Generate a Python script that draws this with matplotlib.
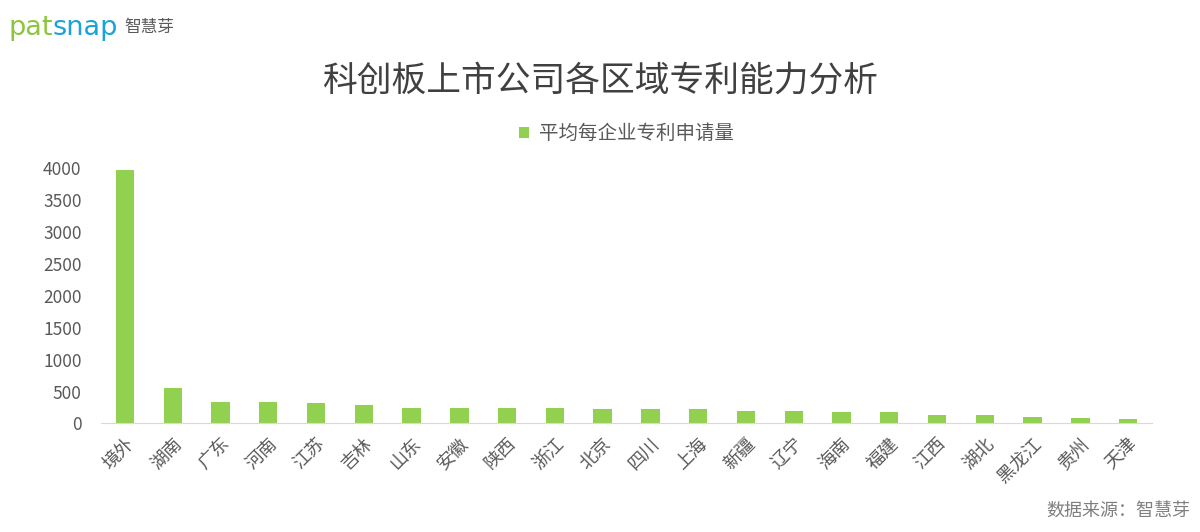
import matplotlib.pyplot as plt

plt.rcParams['font.family'] = ['Noto Sans CJK SC', 'DejaVu Sans']

regions = ["境外", "湖南", "广东", "河南", "江苏", "吉林", "山东", "安徽", "陕西", "浙江", "北京",
           "四川", "上海", "新疆", "辽宁", "海南", "福建", "江西", "湖北", "黑龙江", "贵州", "天津"]
patents = [3965, 548, 344, 329, 313, 286, 244, 243, 243, 242, 222,
           221, 220, 203, 202, 177, 176, 136, 135, 94, 78, 63]
series_name = "平均每企业专利申请量"
title = "科创板上市公司各区域专利能力分析"

fig = plt.figure(figsize=(12, 5.32), dpi=100)
ax = fig.add_axes([0.0842, 0.204, 0.8758, 0.480])

ax.bar(range(len(regions)), patents, width=0.385, color='#92D050', label=series_name)
ax.set_xlim(-0.5, len(regions) - 0.5)
ax.set_ylim(0, 4000)
ax.set_yticks(range(0, 4001, 500))
ax.set_xticks(range(len(regions)))
ax.set_xticklabels(regions, rotation=45, ha='right', rotation_mode='anchor')
ax.tick_params(axis='y', length=0, labelsize=12.5, colors='#595959', pad=14)
ax.tick_params(axis='x', length=0, labelsize=13, colors='#595959', pad=8)
for s in ['top', 'right', 'left']:
    ax.spines[s].set_visible(False)
ax.spines['bottom'].set_color('#D9D9D9')

fig.text(0.5, 0.848, title, ha='center', va='center', fontsize=25, color='#404040')
ax.legend(loc='center', bbox_to_anchor=(0.5, 1.135), frameon=False, fontsize=14,
          labelcolor='#595959', handlelength=0.5, handleheight=0.5, handletextpad=0.5,
          borderpad=0)

# logo and source
pat = fig.text(0.007, 0.948, "pat", fontsize=19.5, color='#8CC63F', va='center', family='DejaVu Sans')
snap = ax.annotate("snap", xy=(1, 0.5), xycoords=pat, va='center', fontsize=19.5,
                   color='#1BA3D9', family='DejaVu Sans', annotation_clip=False)
ax.annotate("智慧芽", xy=(1, 0.5), xycoords=snap, xytext=(4, 0), textcoords='offset points',
            va='center', fontsize=12, color='#595959', annotation_clip=False)
fig.text(0.992, 0.04, "数据来源：智慧芽", fontsize=13, color='#7F7F7F', ha='right', va='center')

fig.savefig("out.png")
